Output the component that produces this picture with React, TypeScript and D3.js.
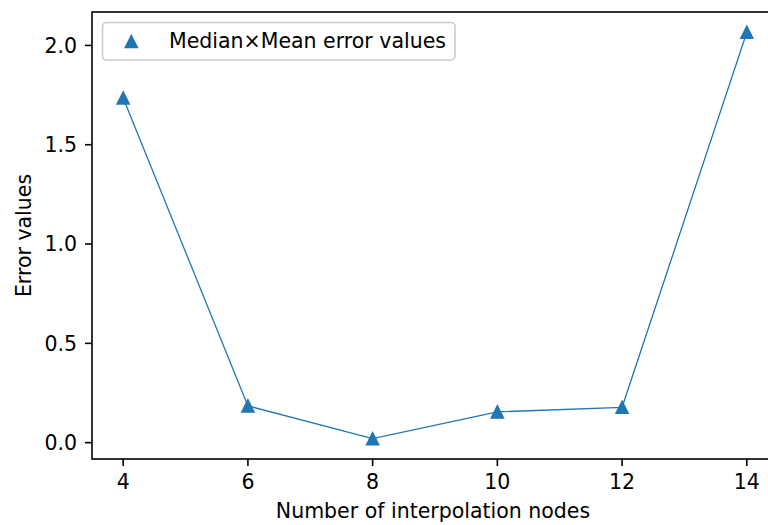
import React from "react";
import * as d3 from "d3";

const nodes = [4, 6, 8, 10, 12, 14];
const errorValues = [1.735, 0.185, 0.02, 0.155, 0.178, 2.066];
const xTicks = [4, 6, 8, 10, 12, 14];
const yTicks = [0, 0.5, 1.0, 1.5, 2.0];
const seriesLabel = "Median×Mean error values";
const xLabel = "Number of interpolation nodes";
const yLabel = "Error values";

const W = 768;
const H = 525;
const L = 92, T = 12, B = 459, R = 778;
const FONT = "'DejaVu Sans', sans-serif";
const FS = 20.5;
const BLUE = "#1f77b4";

function tri(cx: number, cy: number, s = 6) {
  return `M${cx},${cy - s}L${cx - s},${cy + s}L${cx + s},${cy + s}Z`;
}

export default function App() {
  const xMin = d3.min(nodes)!, xMax = d3.max(nodes)!;
  const yMin = d3.min(errorValues)!, yMax = d3.max(errorValues)!;
  const xm = (xMax - xMin) * 0.05, ym = (yMax - yMin) * 0.05;
  const x = d3.scaleLinear().domain([xMin - xm, xMax + xm]).range([L, R]);
  const y = d3.scaleLinear().domain([yMin - ym, yMax + ym]).range([B, T]);
  const line = d3.line<number>().x((_, i) => x(nodes[i])).y((d) => y(d));
  const fmt = d3.format(".1f");

  return (
    <svg width={W} height={H} style={{ position: "absolute", left: 0, top: 0, background: "#fff" }} fontFamily={FONT}>
      <rect x={0} y={0} width={W} height={H} fill="#fff" />
      <path d={line(errorValues) || ""} fill="none" stroke={BLUE} strokeWidth={1.3} />
      {errorValues.map((v, i) => (
        <path key={i} d={tri(x(nodes[i]), y(v))} fill={BLUE} stroke={BLUE} strokeWidth={1.6} strokeLinejoin="miter" />
      ))}
      {/* spines */}
      <rect x={L} y={T} width={R - L} height={B - T} fill="none" stroke="#000" strokeWidth={1.6} />
      {/* x ticks */}
      {xTicks.map((t) => (
        <g key={t}>
          <line x1={x(t)} x2={x(t)} y1={B} y2={B + 7} stroke="#000" strokeWidth={1.6} />
          <text x={x(t)} y={B + 30} fontSize={FS} textAnchor="middle" fill="#000">{t}</text>
        </g>
      ))}
      {yTicks.map((t) => (
        <g key={t}>
          <line x1={L - 7} x2={L} y1={y(t)} y2={y(t)} stroke="#000" strokeWidth={1.6} />
          <text x={L - 15} y={y(t) + 7.3} fontSize={FS} textAnchor="end" fill="#000">{fmt(t)}</text>
        </g>
      ))}
      <text x={(L + R) / 2 - 2} y={518} fontSize={FS} textAnchor="middle" fill="#000">{xLabel}</text>
      <text transform={`translate(31,${(T + B) / 2}) rotate(-90)`} fontSize={FS} textAnchor="middle" fill="#000">{yLabel}</text>
      {/* legend */}
      <rect x={102.5} y={22.5} width={352.5} height={37.5} rx={4} ry={4} fill="#fff" fillOpacity={0.8} stroke="#cccccc" strokeWidth={1.6} />
      <path d={tri(131.3, 41.5)} fill={BLUE} stroke={BLUE} strokeWidth={1.6} />
      <text x={169} y={48} fontSize={FS} fill="#000">{seriesLabel}</text>
    </svg>
  );
}
